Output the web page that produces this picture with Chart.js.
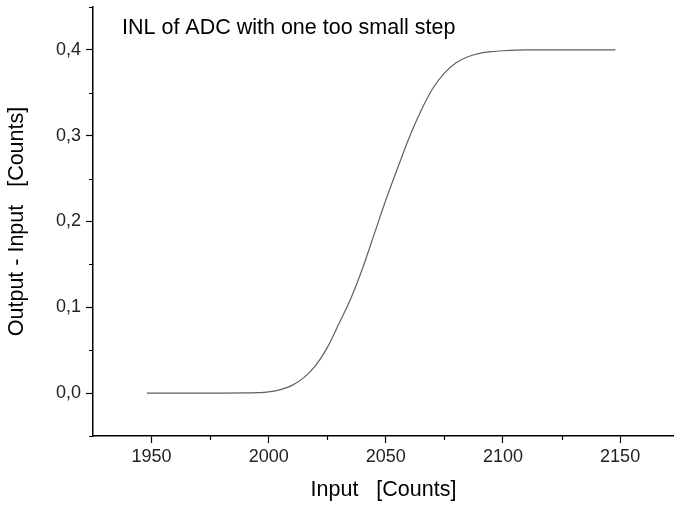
<!DOCTYPE html>
<html>
<head>
<meta charset="utf-8">
<script src="https://cdn.jsdelivr.net/npm/chart.js@4.4.0/dist/chart.umd.min.js"></script>
<style>
  html, body { margin: 0; padding: 0; background: #fff; }
  #wrap { width: 674px; height: 506px; }
</style>
</head>
<body>
<div id="wrap"><canvas id="inl" width="674" height="506"></canvas></div>
<script>
// Werte
const inputCounts = [1948, 1960, 1970, 1980, 1990, 1995, 2000, 2005, 2010, 2015, 2020, 2025, 2030, 2035, 2040, 2045, 2050, 2055, 2060, 2065, 2070, 2075, 2080, 2085, 2090, 2095, 2100, 2110, 2120, 2130, 2140, 2148];
const inlValues = [0, 0, 0, 0, 0.0002, 0.0005, 0.0015, 0.004, 0.009, 0.018, 0.032, 0.053, 0.081, 0.110, 0.145, 0.185, 0.225, 0.262, 0.298, 0.329, 0.355, 0.373, 0.385, 0.392, 0.396, 0.398, 0.399, 0.4, 0.4, 0.4, 0.4, 0.4];
const xTicks = [1950, 2000, 2050, 2100, 2150];
const xMinor = [1975, 2025, 2075, 2125];
const yTicks = [0, 0.1, 0.2, 0.3, 0.4];
const yMinor = [-0.05, 0.05, 0.15, 0.25, 0.35, 0.45];

const FONT = '"Liberation Sans", Arial, sans-serif';

// kleine Nebenstriche an den Achsen + Titel
const minorTicks = {
  id: 'minorTicks',
  afterDraw(chart) {
    const { ctx, scales: { x, y } } = chart;
    ctx.save();
    ctx.strokeStyle = '#000';
    ctx.lineWidth = 1.2;
    ctx.beginPath();
    xMinor.forEach(v => {
      const px = Math.round(x.getPixelForValue(v)) + 0.5;
      ctx.moveTo(px, x.top);
      ctx.lineTo(px, x.top + 4);
    });
    yMinor.forEach(v => {
      const py = Math.round(y.getPixelForValue(v)) + 0.5;
      ctx.moveTo(y.right, py);
      ctx.lineTo(y.right - 4, py);
    });
    ctx.stroke();
    ctx.fillStyle = '#000';
    ctx.font = '21.5px ' + FONT;
    ctx.textBaseline = 'middle';
    ctx.fillText('INL of ADC with one too small step', chart.chartArea.left + 29, chart.chartArea.top + 21);
    ctx.restore();
  }
};

new Chart(document.getElementById('inl'), {
  type: 'scatter',
  data: {
    datasets: [{
      data: inputCounts.map((v, i) => ({ x: v, y: inlValues[i] })),
      showLine: true,
      borderColor: '#606060',
      borderWidth: 1.2,
      pointRadius: 0,
      cubicInterpolationMode: 'monotone'
    }]
  },
  options: {
    responsive: false,
    animation: false,
    layout: { padding: { top: 7, right: 0, left: 0, bottom: 0 } },
    plugins: { legend: { display: false }, tooltip: { enabled: false } },
    scales: {
      x: {
        type: 'linear',
        min: 1925,
        max: 2173,
        afterBuildTicks: s => { s.ticks = xTicks.map(v => ({ value: v })); },
        afterFit: s => { s.height = 70; s.paddingLeft = 0; s.paddingRight = 0; },
        border: { color: '#000', width: 1.5 },
        grid: { drawOnChartArea: false, drawTicks: true, tickLength: 7, tickColor: '#000', tickWidth: 1.2 },
        ticks: { color: '#222', font: { family: FONT, size: 18 }, padding: 3, maxRotation: 0, callback: v => String(v) },
        title: { display: true, text: 'Input   [Counts]', color: '#000', font: { family: FONT, size: 21.5 }, padding: { top: 0, bottom: 3 } }
      },
      y: {
        type: 'linear',
        min: -0.05,
        max: 0.45,
        afterBuildTicks: s => { s.ticks = yTicks.map(v => ({ value: v })); },
        afterFit: s => { s.width = 93; s.paddingTop = 0; s.paddingBottom = 0; },
        border: { color: '#000', width: 1.5 },
        grid: { drawOnChartArea: false, drawTicks: true, tickLength: 7, tickColor: '#000', tickWidth: 1.2 },
        ticks: { color: '#222', font: { family: FONT, size: 18 }, padding: 5, callback: v => v.toFixed(1).replace('.', ',') },
        title: { display: true, text: 'Output - Input   [Counts]', color: '#000', font: { family: FONT, size: 21.5 }, padding: { top: 4, bottom: 0 } }
      }
    }
  },
  plugins: [minorTicks]
});
</script>
</body>
</html>
